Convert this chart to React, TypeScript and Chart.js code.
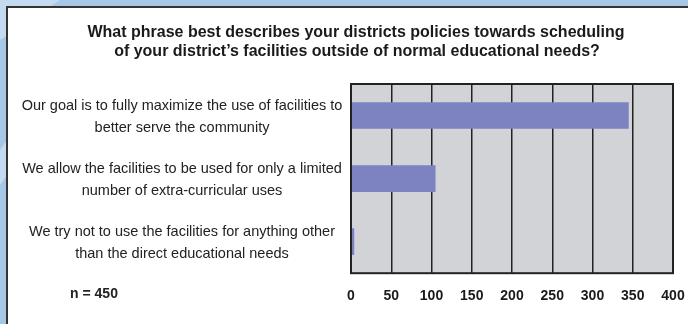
import React, { useEffect, useRef } from "react";
import { Chart, registerables } from "chart.js";

Chart.register(...registerables);

const titleLines = [
  "What phrase best describes your districts policies towards scheduling",
  "of your district\u2019s facilities outside of normal educational needs?",
];
const categories = ["maximize", "limited", "educational"];
const categoryLabels = [
  ["Our goal is to fully maximize the use of facilities to", "better serve the community"],
  ["We allow the facilities to be used for only a limited", "number of extra-curricular uses"],
  ["We try not to use the facilities for anything other", "than the direct educational needs"],
];
const values = [345, 105, 4];
const sampleNote = "n = 450";
const xMin = 0;
const xMax = 400;
const xStep = 50;

const FONT = '"Liberation Sans", Arial, Helvetica, sans-serif';

const decorPlugin = {
  id: "decor",
  beforeDraw(chart: any) {
    const { ctx, width, height, chartArea } = chart;
    ctx.save();
    // blue decorative background
    ctx.fillStyle = "#a7c7e7";
    ctx.fillRect(0, 0, width, height);
    ctx.fillStyle = "#c3daf0";
    ctx.beginPath();
    ctx.moveTo(0, 0);
    ctx.lineTo(60, 0);
    ctx.lineTo(0, 40);
    ctx.closePath();
    ctx.fill();
    ctx.beginPath();
    ctx.moveTo(0, 150);
    ctx.lineTo(7, 140);
    ctx.lineTo(7, 175);
    ctx.lineTo(0, 185);
    ctx.closePath();
    ctx.fill();
    // white panel
    ctx.fillStyle = "#ffffff";
    ctx.fillRect(7, 7, width - 7, height - 7);
    ctx.strokeStyle = "#333333";
    ctx.lineWidth = 2;
    ctx.beginPath();
    ctx.moveTo(7, height);
    ctx.lineTo(7, 7);
    ctx.lineTo(width, 7);
    ctx.stroke();
    // title
    ctx.fillStyle = "#1a1a1a";
    ctx.font = "bold 16px " + FONT;
    ctx.textAlign = "center";
    ctx.textBaseline = "middle";
    ctx.fillText(titleLines[0], 356, 33);
    ctx.fillText(titleLines[1], 357, 52);
    // plot background
    ctx.fillStyle = "#d1d3d6";
    ctx.fillRect(chartArea.left, chartArea.top, chartArea.right - chartArea.left, chartArea.bottom - chartArea.top);
    ctx.restore();
  },
  afterDraw(chart: any) {
    const { ctx, chartArea } = chart;
    const yScale = chart.scales.y;
    ctx.save();
    ctx.strokeStyle = "#222222";
    ctx.lineWidth = 2;
    ctx.strokeRect(chartArea.left, chartArea.top, chartArea.right - chartArea.left, chartArea.bottom - chartArea.top);
    ctx.fillStyle = "#222222";
    ctx.font = "14.5px " + FONT;
    ctx.textAlign = "center";
    ctx.textBaseline = "middle";
    categoryLabels.forEach((lines, i) => {
      const yc = yScale.getPixelForValue(i) + 1;
      ctx.fillText(lines[0], 182, yc - 11);
      ctx.fillText(lines[1], 182, yc + 11);
    });
    ctx.font = "bold 14px " + FONT;
    ctx.fillText(sampleNote, 94, 294);
    ctx.restore();
  },
};

export default function App() {
  const ref = useRef<HTMLCanvasElement | null>(null);
  useEffect(() => {
    if (!ref.current) return;
    const chart = new Chart(ref.current, {
      type: "bar",
      data: {
        labels: categories,
        datasets: [
          {
            data: values,
            backgroundColor: "#7d82c1",
            borderWidth: 0,
            barPercentage: 0.9,
            categoryPercentage: 0.47,
          },
        ],
      },
      options: {
        indexAxis: "y",
        responsive: false,
        animation: false,
        layout: { padding: { left: 351, right: 15, top: 84, bottom: 4 } },
        plugins: { legend: { display: false }, tooltip: { enabled: false }, title: { display: false } },
        scales: {
          x: {
            min: xMin,
            max: xMax,
            border: { display: false },
            grid: { color: "#222222", lineWidth: 1.5, drawTicks: false },
            afterFit: (scale: any) => {
              scale.paddingLeft = 0;
              scale.paddingRight = 0;
            },
            ticks: {
              stepSize: xStep,
              autoSkip: false,
              maxRotation: 0,
              padding: 15,
              color: "#1a1a1a",
              font: { family: FONT, size: 14, weight: "bold" },
            },
          },
          y: { display: false },
        },
      },
      plugins: [decorPlugin],
    });
    return () => chart.destroy();
  }, []);
  return (
    <canvas
      ref={ref}
      width={688}
      height={324}
      style={{ position: "absolute", left: 0, top: 0, width: 688, height: 324 }}
    />
  );
}
